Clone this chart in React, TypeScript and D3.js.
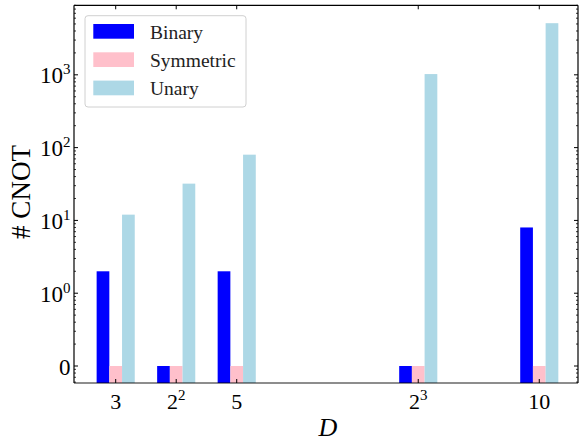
import React from "react";
import * as d3 from "d3";

const xValues = [3, 4, 5, 8, 10];
const xTickBase = ["3", "2", "5", "2", "10"];
const xTickSup = ["", "2", "", "3", ""];
const binary = [2, 0, 2, 0, 8];
const symmetric = [0, 0, 0, 0, 0];
const unary = [12, 32, 80, 1024, 5120];
const yTickValues = [0, 1, 10, 100, 1000];
const yTickBase = ["0", "10", "10", "10", "10"];
const yTickSup = ["", "0", "1", "2", "3"];
const seriesNames = ["Binary", "Symmetric", "Unary"];
const seriesColors = ["#0000ff", "#ffc0cb", "#add8e6"];

const W = 582;
const H = 442;
const L = 74, R = 578, T = 5.3, B = 383;
const FONT = "Liberation Serif, DejaVu Serif, serif";

// symlog-like transform (linthresh = 1)
const tr = (v: number) => (Math.abs(v) <= 1 ? v : Math.sign(v) * (1 + Math.log10(Math.abs(v))));

export default function App() {
  const x = d3.scaleLinear().domain([2.311, 10.64]).range([L, R]);
  const yT = d3.scaleLinear().domain([-0.2335, 4.955]).range([B, T]);
  const y = (v: number) => yT(tr(v));
  const bw = 0.21;
  const series = [binary, symmetric, unary];

  const minor: number[] = [];
  for (let d = 0; d < 5; d++) {
    for (let k = 2; k <= 9; k++) {
      const t = d + Math.log10(k);
      if (t < 4.955) minor.push(t);
    }
  }
  for (let k = 9; k >= 2; k--) {
    const t = -(1 - Math.log10(k));
    if (t > -0.2335) minor.push(t);
  }

  return (
    <svg width={W} height={H} style={{ position: "absolute", left: 0, top: 0, background: "#fff", fontFamily: FONT }}>
      <rect x={0} y={0} width={W} height={H} fill="#fff" />
      {series.map((s, si) =>
        s.map((v, i) => {
          const cx = xValues[i] + (si - 1) * bw;
          const x0 = x(cx - bw / 2);
          const x1 = x(cx + bw / 2);
          const top = y(v);
          return (
            <rect key={`b${si}-${i}`} x={x0} y={top} width={x1 - x0} height={B - top} fill={seriesColors[si]} />
          );
        })
      )}
      <line x1={L} y1={T} x2={R} y2={T} stroke="#000" strokeWidth={1.2} />
      <line x1={L} y1={T} x2={L} y2={B} stroke="#000" strokeWidth={1.2} />
      <line x1={R} y1={T} x2={R} y2={B} stroke="#000" strokeWidth={1.2} />
      <line x1={L} y1={B} x2={R} y2={B} stroke="#000" strokeOpacity={0.6} strokeWidth={1.5} />
      {xValues.map((v, i) => (
        <g key={`xt${i}`}>
          <line x1={x(v)} x2={x(v)} y1={T} y2={T + 4} stroke="#000" strokeWidth={1} />
          <line x1={x(v)} x2={x(v)} y1={B} y2={B - 4} stroke="#000" strokeWidth={1} />
          <text x={x(v)} y={409} fontFamily={FONT} fontSize={22} textAnchor="middle" fill="#000">
            {xTickBase[i]}
            {xTickSup[i] ? (
              <tspan fontSize={15} dy={-9}>
                {xTickSup[i]}
              </tspan>
            ) : null}
          </text>
        </g>
      ))}
      {yTickValues.map((v, i) => (
        <g key={`yt${i}`}>
          <line x1={L} x2={L + 4} y1={y(v)} y2={y(v)} stroke="#000" strokeWidth={1} />
          <line x1={R} x2={R - 4} y1={y(v)} y2={y(v)} stroke="#000" strokeWidth={1} />
          <text x={70.5} y={y(v) + 8.5} fontFamily={FONT} fontSize={23} textAnchor="end" fill="#000">
            {yTickBase[i]}
            {yTickSup[i] ? (
              <tspan fontSize={15} dy={-9}>
                {yTickSup[i]}
              </tspan>
            ) : null}
          </text>
        </g>
      ))}
      {minor.map((t, i) => (
        <g key={`ym${i}`}>
          <line x1={L} x2={L + 2} y1={yT(t)} y2={yT(t)} stroke="#000" strokeWidth={0.8} />
          <line x1={R} x2={R - 2} y1={yT(t)} y2={yT(t)} stroke="#000" strokeWidth={0.8} />
        </g>
      ))}
      <text transform={`translate(30,192) rotate(-90)`} fontFamily={FONT} fontSize={27} textAnchor="middle" fill="#000">
        # CNOT
      </text>
      <text x={328} y={436} fontFamily={FONT} fontSize={26} fontStyle="italic" textAnchor="middle" fill="#000">
        D
      </text>
      <rect x={85} y={15.7} width={161} height={91.3} rx={3} fill="#fff" fillOpacity={0.8} stroke="#d0d0d0" strokeWidth={1} />
      {seriesNames.map((n, i) => (
        <g key={`lg${i}`}>
          <rect x={93.3} y={24 + i * 28.3} width={40.7} height={14.7} fill={seriesColors[i]} />
          <text x={150} y={38.5 + i * 28.3} fontFamily={FONT} fontSize={19.5} fill="#222">
            {n}
          </text>
        </g>
      ))}
    </svg>
  );
}
